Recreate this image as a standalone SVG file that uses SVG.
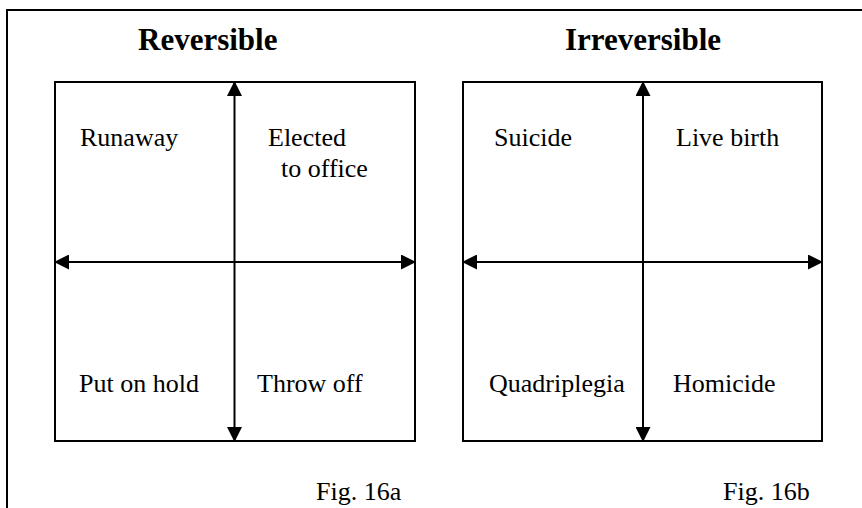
<svg xmlns="http://www.w3.org/2000/svg" width="862" height="508" viewBox="0 0 862 508">
<style>
  .frame { fill: none; stroke: #000; stroke-width: 2; }
  .box { fill: #fff; stroke: #000; stroke-width: 2; }
  .axis { stroke: #000; stroke-width: 2; fill: none; marker-start: url(#arrow); marker-end: url(#arrow); }
  .head { font-family: "Liberation Serif", "Times New Roman", serif; font-weight: bold; font-size: 31px; fill: #000; }
  .lbl { font-family: "Liberation Serif", "Times New Roman", serif; font-size: 26px; fill: #000; }
</style>
<defs>
  <marker id="arrow" markerUnits="userSpaceOnUse" markerWidth="15" markerHeight="15" refX="14" refY="7.5" orient="auto-start-reverse" viewBox="0 0 15 15">
    <path d="M0,0 L15,7.5 L0,15 z" fill="#000"/>
  </marker>
</defs>
<rect width="862" height="508" fill="#fff"/>
<path class="frame" d="M7,508 V10 H862"/>

<g id="panel-a">
  <text class="head" x="138" y="50">Reversible</text>
  <rect class="box" x="55" y="82" width="360" height="359"/>
</g>
<g id="panel-b">
  <text class="head" x="565" y="50">Irreversible</text>
  <rect class="box" x="463" y="82" width="359" height="359"/>
</g>

<g id="connectors">
  <line class="axis" x1="234.5" y1="441" x2="234.5" y2="82"/>
  <line class="axis" x1="415" y1="262" x2="55" y2="262"/>
  <line class="axis" x1="643" y1="441" x2="643" y2="82"/>
  <line class="axis" x1="822" y1="262" x2="463" y2="262"/>
</g>

<g id="runaway"><text class="lbl" x="80" y="146">Runaway</text></g>
<g id="elected"><text class="lbl" x="268" y="146">Elected</text><text class="lbl" x="281" y="177">to office</text></g>
<g id="put-on-hold"><text class="lbl" x="79" y="392">Put on hold</text></g>
<g id="throw-off"><text class="lbl" x="257" y="392">Throw off</text></g>
<g id="suicide"><text class="lbl" x="494" y="146">Suicide</text></g>
<g id="live-birth"><text class="lbl" x="676" y="146">Live birth</text></g>
<g id="quadriplegia"><text class="lbl" x="489" y="392">Quadriplegia</text></g>
<g id="homicide"><text class="lbl" x="673" y="392">Homicide</text></g>

<text class="lbl" x="316" y="500">Fig. 16a</text>
<text class="lbl" x="723" y="500">Fig. 16b</text>
</svg>
